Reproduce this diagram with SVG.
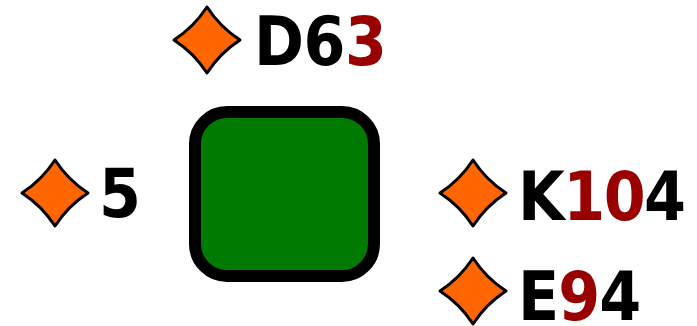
<svg xmlns="http://www.w3.org/2000/svg" width="697" height="326" viewBox="0 0 697 326">
<style>
.dia{fill:#FF6600;stroke:#000;stroke-width:3;stroke-linejoin:round}
.lbl{font-family:"DejaVu Sans Condensed","DejaVu Sans","Liberation Sans",sans-serif;font-stretch:condensed;font-weight:bold;font-size:67px;fill:#000}
.red{fill:#990000}
</style>
<defs>
<path id="d" class="dia" d="M0,-33 Q13,-13 33,0 Q13,13 0,33 Q-13,13 -33,0 Q-13,-13 0,-33 Z"/>
</defs>
<g id="box">
<rect x="195" y="112" width="179" height="164" rx="32" fill="#007A00" stroke="#000" stroke-width="12"/>
</g>
<g id="n-D63">
<use href="#d" x="207" y="40"/>
<text class="lbl" x="254" y="65" letter-spacing="-0.5">D6<tspan class="red">3</tspan></text>
</g>
<g id="n-5">
<use href="#d" x="55" y="193"/>
<text class="lbl" x="99" y="217">5</text>
</g>
<g id="n-K104">
<use href="#d" x="473" y="193"/>
<text class="lbl" x="518" y="220" letter-spacing="-1.5">K<tspan class="red">10</tspan>4</text>
</g>
<g id="n-E94">
<use href="#d" x="473" y="291"/>
<text class="lbl" x="518" y="320" letter-spacing="-1">E<tspan class="red">9</tspan>4</text>
</g>
<g id="connectors"></g>
</svg>
